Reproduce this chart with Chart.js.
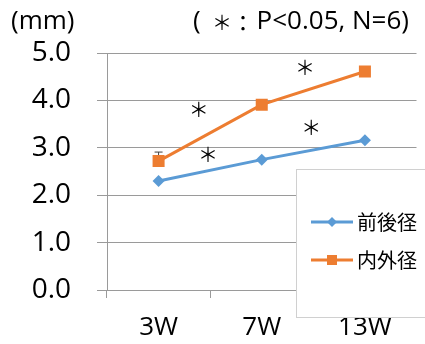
<!DOCTYPE html>
<html>
<head>
<meta charset="utf-8">
<script src="https://cdn.jsdelivr.net/npm/chart.js@4/dist/chart.umd.min.js"></script>
<style>
  body { margin: 0; background: #fff; }
  #wrap { width: 425px; height: 344px; position: relative; }
</style>
</head>
<body>
<div id="wrap"><canvas id="lineChart"></canvas></div>
<script>
// data
var weeks = ["3W", "7W", "13W"];
var seriesNames = ["前後径", "内外径"];
var apDiameter = [2.30, 2.75, 3.16]; // 前後径
var mlDiameter = [2.72, 3.91, 4.61]; // 内外径
var apError = [0, 0, 0];
var mlError = [0.19, 0, 0];
// significance marks (category index, value)
var sigX = [0.39, 0.48, 1.42, 1.48];
var sigY = [3.80, 2.86, 4.70, 3.44];

var LATIN = "'Open Sans', 'Noto Sans CJK JP', sans-serif";
var CJK = "'Noto Sans CJK JP', sans-serif";
var gridColor = "#9a9a9a";

var extras = {
  id: "extras",
  beforeDatasetsDraw: function (chart) {
    var ctx = chart.ctx;
    var xs = chart.scales.x, ys = chart.scales.y;
    var errs = [apError, mlError];
    ctx.save();
    ctx.strokeStyle = "#404040";
    ctx.lineWidth = 1;
    chart.data.datasets.forEach(function (ds, d) {
      ds.data.forEach(function (v, i) {
        var e = errs[d][i];
        if (!e) return;
        var x = xs.getPixelForValue(i);
        var y0 = ys.getPixelForValue(v);
        var y1 = ys.getPixelForValue(v + e);
        ctx.beginPath();
        ctx.moveTo(x, y0);
        ctx.lineTo(x, y1);
        ctx.moveTo(x - 4, y1);
        ctx.lineTo(x + 4, y1);
        ctx.stroke();
      });
    });
    ctx.restore();
  },
  afterDraw: function (chart) {
    var ctx = chart.ctx;
    var xs = chart.scales.x, ys = chart.scales.y;
    ctx.save();
    ctx.fillStyle = "#000";
    ctx.textBaseline = "middle";
    ctx.textAlign = "center";
    ctx.font = "20px " + CJK;
    for (var k = 0; k < sigX.length; k++) {
      ctx.fillText("＊", xs.getPixelForValue(sigX[k]), ys.getPixelForValue(sigY[k]));
    }

    // header texts
    ctx.textAlign = "left";
    ctx.font = "26px " + LATIN;
    ctx.fillText("(mm)", 11, 22);
    ctx.fillText("(", 193, 22);
    ctx.textAlign = "center";
    ctx.font = "20px " + CJK;
    ctx.fillText("＊", 222, 22);
    ctx.font = "22px " + CJK;
    ctx.fillText("：", 243, 23);
    ctx.textAlign = "right";
    ctx.font = "26px " + LATIN;
    ctx.fillText("P<0.05, N=6)", 409, 22);

    // legend box
    ctx.fillStyle = "#fff";
    ctx.strokeStyle = "#d0d0d0";
    ctx.lineWidth = 1;
    ctx.fillRect(296.5, 169.5, 130, 148);
    ctx.strokeRect(296.5, 169.5, 130, 148);
    var rows = [222, 260];
    chart.data.datasets.forEach(function (ds, d) {
      var y = rows[d];
      ctx.strokeStyle = ds.borderColor;
      ctx.lineWidth = 3;
      ctx.beginPath();
      ctx.moveTo(311, y);
      ctx.lineTo(353, y);
      ctx.stroke();
      ctx.fillStyle = ds.backgroundColor;
      ctx.beginPath();
      if (d === 0) {
        ctx.moveTo(332, y - 5); ctx.lineTo(337, y); ctx.lineTo(332, y + 5); ctx.lineTo(327, y);
      } else {
        ctx.rect(327, y - 5, 10, 10);
      }
      ctx.fill();
      ctx.fillStyle = "#000";
      ctx.textAlign = "left";
      ctx.font = "20px " + CJK;
      ctx.fillText(ds.label, 357, y);
    });
    ctx.restore();
  }
};

var chart = new Chart(document.getElementById("lineChart"), {
  type: "line",
  data: {
    labels: weeks,
    datasets: [
      {
        label: seriesNames[0],
        data: apDiameter,
        borderColor: "#5b9bd5",
        backgroundColor: "#5b9bd5",
        borderWidth: 3,
        pointStyle: "rectRot",
        pointRadius: 6,
        pointBorderWidth: 0,
        tension: 0
      },
      {
        label: seriesNames[1],
        data: mlDiameter,
        borderColor: "#ed7d31",
        backgroundColor: "#ed7d31",
        borderWidth: 3,
        pointStyle: "rect",
        pointRadius: 8.5,
        pointBorderWidth: 0,
        tension: 0
      }
    ]
  },
  options: {
    responsive: true,
    maintainAspectRatio: false,
    animation: false,
    layout: { padding: { top: 53, right: 5, left: 0, bottom: 0 } },
    plugins: {
      legend: { display: false },
      tooltip: { enabled: false }
    },
    scales: {
      x: {
        offset: true,
        grid: {
          offset: true,
          drawOnChartArea: false,
          drawTicks: true,
          tickLength: 8,
          color: gridColor
        },
        border: { display: false },
        ticks: {
          color: "#000",
          padding: 14,
          font: { family: LATIN, size: 26 }
        },
        afterFit: function (scale) { scale.height = 54; }
      },
      y: {
        min: 0,
        max: 5,
        grid: { color: gridColor, tickLength: 10 },
        border: { display: true, color: gridColor },
        ticks: {
          stepSize: 1,
          color: "#000",
          padding: 26,
          font: { family: LATIN, size: 28 },
          callback: function (v) { return v.toFixed(1); }
        },
        afterFit: function (scale) { scale.width = 107; }
      }
    }
  },
  plugins: [extras]
});
</script>
</body>
</html>
